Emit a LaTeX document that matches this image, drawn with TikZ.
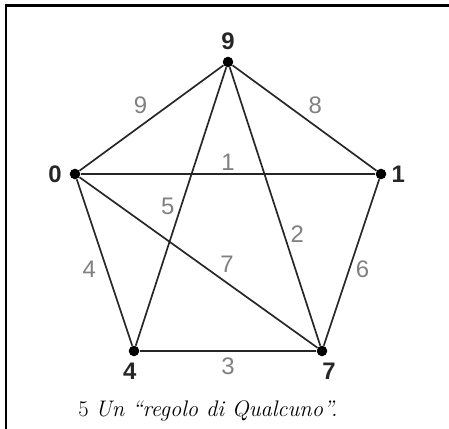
\documentclass[tikz,border=0pt]{standalone}
\usepackage{fontspec}
\newfontfamily\labelfont{Liberation Sans}
\usetikzlibrary{calc,positioning}

\begin{document}
\begin{tikzpicture}[
    x=0.025cm, y=-0.025cm,
    vertex/.style={circle, fill=black, inner sep=0pt, minimum size=7.5pt},
    vlabel/.style={font=\labelfont\bfseries\fontsize{17}{17}\selectfont, text=black!85},
    elabel/.style={font=\labelfont\fontsize{17}{17}\selectfont, text=black!50, inner sep=1pt},
    edge/.style={line width=1.2pt, black!85}
]
\useasboundingbox (0,0) rectangle (449,429);

% frame (only top and left edges are visible)
\draw[line width=1.8pt] (6,429) -- (6,5.5) -- (449,5.5);

% vertices of the pentagon
\node[vertex] (n9) at (228,62) {};
\node[vertex] (n0) at (75,174) {};
\node[vertex] (n1) at (381,174) {};
\node[vertex] (n4) at (134,351) {};
\node[vertex] (n7) at (322,351) {};

\node[vlabel, above=1pt of n9] (l9) {9};
\node[vlabel, left=2pt of n0] (l0) {0};
\node[vlabel, right=0pt of n1] (l1) {1};
\node[vlabel, below=1pt of n4, xshift=-3pt] (l4) {4};
\node[vlabel, below=1pt of n7, xshift=5pt] (l7) {7};

% edges with their weights
\draw[edge] (n0) -- node[elabel, above left=2pt] {9} (n9);
\draw[edge] (n9) -- node[elabel, above right=2pt] {8} (n1);
\draw[edge] (n0) -- node[elabel, above=1pt] {1} (n1);
\draw[edge] (n9) -- node[elabel, pos=0.5, left=3pt] {5} (n4);
\draw[edge] (n9) -- node[elabel, pos=0.6, right=3pt] {2} (n7);
\draw[edge] (n0) -- node[elabel, pos=0.62, above=6pt] {7} (n7);
\draw[edge] (n0) -- node[elabel, pos=0.54, left=6pt] {4} (n4);
\draw[edge] (n1) -- node[elabel, pos=0.54, right=3pt] {6} (n7);
\draw[edge] (n4) -- node[elabel, below=3pt] {3} (n7);

% caption
\node[font=\fontsize{16}{18}\selectfont] (caption) at (208,411) {5 \textit{Un ``regolo di Qualcuno''.}};
\end{tikzpicture}
\end{document}
